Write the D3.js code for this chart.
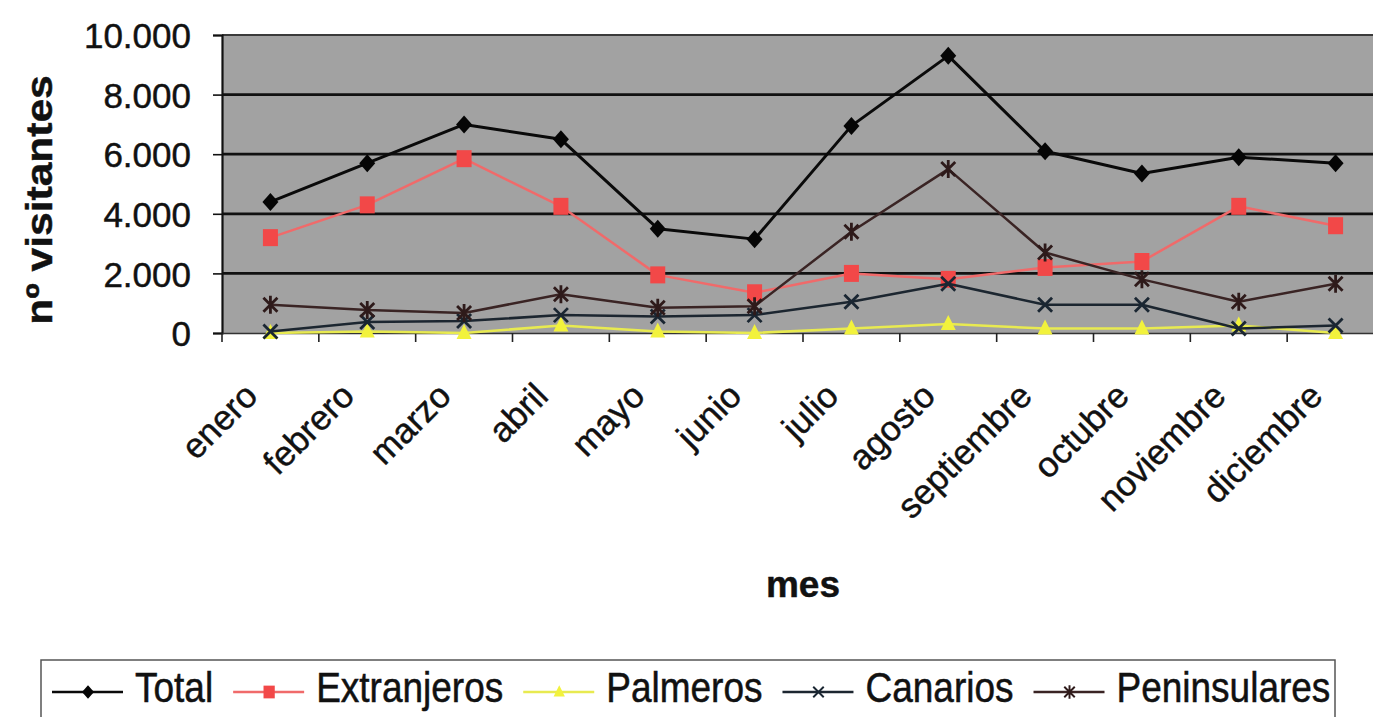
<!DOCTYPE html>
<html>
<head>
<meta charset="utf-8">
<script src="https://cdn.jsdelivr.net/npm/d3@7"></script>
<style>
  html, body { margin: 0; padding: 0; background: #fff; overflow: hidden; }
  svg { display: block; font-family: Arial, "Liberation Sans", sans-serif; }
  text { stroke: #111; stroke-width: 0.45px; }
</style>
</head>
<body>
<svg id="chart" width="1373" height="717"></svg>
<script>
// ---- data ----
const months = ["enero","febrero","marzo","abril","mayo","junio","julio","agosto","septiembre","octubre","noviembre","diciembre"];
const total        = [4400, 5700, 7000, 6500, 3500, 3150, 6950, 9300, 6100, 5350, 5900, 5700];
const extranjeros  = [3200, 4300, 5850, 4250, 1950, 1350, 2000, 1800, 2200, 2400, 4250, 3600];
const palmeros     = [0, 50, 0, 250, 50, 0, 150, 300, 150, 150, 250, 0];
const canarios     = [50, 370, 400, 600, 550, 600, 1050, 1650, 950, 950, 150, 250];
const peninsulares = [950, 770, 670, 1300, 850, 900, 3400, 5500, 2700, 1800, 1050, 1650];
const seriesNames  = ["Total", "Extranjeros", "Palmeros", "Canarios", "Peninsulares"];
const yTicks = [0, 2000, 4000, 6000, 8000, 10000];
const yTitle = "nº visitantes";
const xTitle = "mes";

// ---- layout ----
const svg = d3.select("#chart");
const plot = { left: 222, right: 1384, top: 35, bottom: 333 };

const x = d3.scaleBand().domain(months).range([plot.left, plot.right]).paddingInner(0).paddingOuter(0);
const y = d3.scaleLinear().domain([0, 10000]).range([plot.bottom, plot.top]);
const cx = m => x(m) + x.bandwidth() / 2;

const locale = d3.formatLocale({ decimal: ",", thousands: ".", grouping: [3], currency: ["", "€"] });
const fmt = locale.format(",");

// plot background
svg.append("rect")
  .attr("x", plot.left).attr("y", plot.top)
  .attr("width", plot.right - plot.left).attr("height", plot.bottom - plot.top)
  .attr("fill", "#a2a2a2");

// gridlines
svg.append("g").selectAll("line")
  .data(yTicks.filter(t => t > 0))
  .join("line")
  .attr("x1", plot.left).attr("x2", plot.right)
  .attr("y1", d => y(d)).attr("y2", d => y(d))
  .attr("stroke", d => d === 10000 ? "#3a3a3a" : "#111")
  .attr("stroke-width", d => d === 10000 ? 1.8 : 2.8);

// y axis
const yAxis = svg.append("g")
  .attr("transform", `translate(${plot.left},0)`)
  .call(d3.axisLeft(y).tickValues(yTicks).tickFormat(fmt).tickSize(9).tickPadding(22));
yAxis.select(".domain").attr("stroke", "#111").attr("stroke-width", 2.2);
yAxis.selectAll(".tick line").attr("stroke", "#111").attr("stroke-width", 1.6);
yAxis.selectAll(".tick text")
  .attr("font-size", 35).attr("fill", "#111")
  .attr("font-family", "Arial, 'Liberation Sans', sans-serif")
  .attr("dy", "0.36em");

// x axis
const xAxis = svg.append("g")
  .attr("transform", `translate(0,${plot.bottom})`)
  .call(d3.axisBottom(x).tickSize(0).tickFormat(""));
xAxis.select(".domain").attr("stroke", "#333").attr("stroke-width", 1.6);
// category boundary ticks
svg.append("g").selectAll("line")
  .data(months.concat(["__end"]))
  .join("line")
  .attr("x1", (d, i) => plot.left + i * x.bandwidth())
  .attr("x2", (d, i) => plot.left + i * x.bandwidth())
  .attr("y1", plot.bottom).attr("y2", plot.bottom + 9)
  .attr("stroke", "#222").attr("stroke-width", 1.6);

// rotated month labels
svg.append("g").selectAll("text")
  .data(months)
  .join("text")
  .attr("transform", d => `translate(${cx(d) - 11},${plot.bottom + 65}) rotate(-45)`)
  .attr("text-anchor", "end")
  .attr("font-size", 35)
  .attr("fill", "#111")
  .text(d => d);

// axis titles
svg.append("text")
  .attr("transform", "translate(52,200) rotate(-90) scale(1.15,1)")
  .attr("text-anchor", "middle")
  .attr("font-size", 37).attr("font-weight", "bold").attr("fill", "#111")
  .text(yTitle);

svg.append("text")
  .attr("x", 803).attr("y", 597)
  .attr("text-anchor", "middle")
  .attr("font-size", 37).attr("font-weight", "bold").attr("fill", "#111")
  .text(xTitle);

// ---- series ----
const markerPaths = {
  diamond: "M0,-9L8,0L0,9L-8,0Z",
  square: "M-7.5,-8.5L7.5,-8.5L7.5,8.5L-7.5,8.5Z",
  triangle: "M0,-9L7.5,6L-7.5,6Z",
  x: "M-7,-7L7,7M7,-7L-7,7",
  star: "M-7,-7L7,7M7,-7L-7,7M0,-9L0,9"
};

const series = [
  { name: seriesNames[0], values: total,        line: "#0a0a0a", width: 3.0, marker: "diamond",  mfill: "#050505", mstroke: "none" },
  { name: seriesNames[1], values: extranjeros,  line: "#f06a6a", width: 2.5, marker: "square",   mfill: "#f24848", mstroke: "none" },
  { name: seriesNames[2], values: palmeros,     line: "#e8ea50", width: 2.6, marker: "triangle", mfill: "#f2f23c", mstroke: "none" },
  { name: seriesNames[3], values: canarios,     line: "#1c2630", width: 2.5, marker: "x",        mfill: "none",    mstroke: "#1a2632" },
  { name: seriesNames[4], values: peninsulares, line: "#3a2424", width: 2.5, marker: "star",     mfill: "none",    mstroke: "#2e1a1a" }
];

const lineGen = d3.line().x(d => cx(d.m)).y(d => y(d.v));

series.forEach(s => {
  const pts = months.map((m, i) => ({ m, v: s.values[i] }));
  const g = svg.append("g");
  g.append("path")
    .datum(pts)
    .attr("d", lineGen)
    .attr("fill", "none")
    .attr("stroke", s.line)
    .attr("stroke-width", s.width)
    .attr("stroke-linejoin", "round");
  g.selectAll("path.mk")
    .data(pts)
    .join("path")
    .attr("class", "mk")
    .attr("transform", d => `translate(${cx(d.m)},${y(d.v)})`)
    .attr("d", markerPaths[s.marker])
    .attr("fill", s.mfill)
    .attr("stroke", s.mstroke)
    .attr("stroke-width", 2.8);
});

// ---- legend ----
const legend = svg.append("g");
legend.append("rect")
  .attr("x", 41).attr("y", 660)
  .attr("width", 1335 - 41).attr("height", 80)
  .attr("fill", "#fff").attr("stroke", "#555").attr("stroke-width", 1.5);

let lx = 52;
const ly = 692;
series.forEach(s => {
  const g = legend.append("g");
  g.append("line")
    .attr("x1", lx).attr("x2", lx + 71)
    .attr("y1", ly).attr("y2", ly)
    .attr("stroke", s.line).attr("stroke-width", 2.4);
  g.append("path")
    .attr("transform", `translate(${lx + 36},${ly}) scale(0.75)`)
    .attr("d", markerPaths[s.marker])
    .attr("fill", s.mfill)
    .attr("stroke", s.mstroke)
    .attr("stroke-width", 2.6);
  const t = g.append("text")
    .attr("transform", `translate(${lx + 83},702) scale(1,1.13)`)
    .attr("font-size", 37)
    .attr("fill", "#111")
    .text(s.name);
  lx = lx + 83 + t.node().getComputedTextLength() + 20;
});
</script>
</body>
</html>
